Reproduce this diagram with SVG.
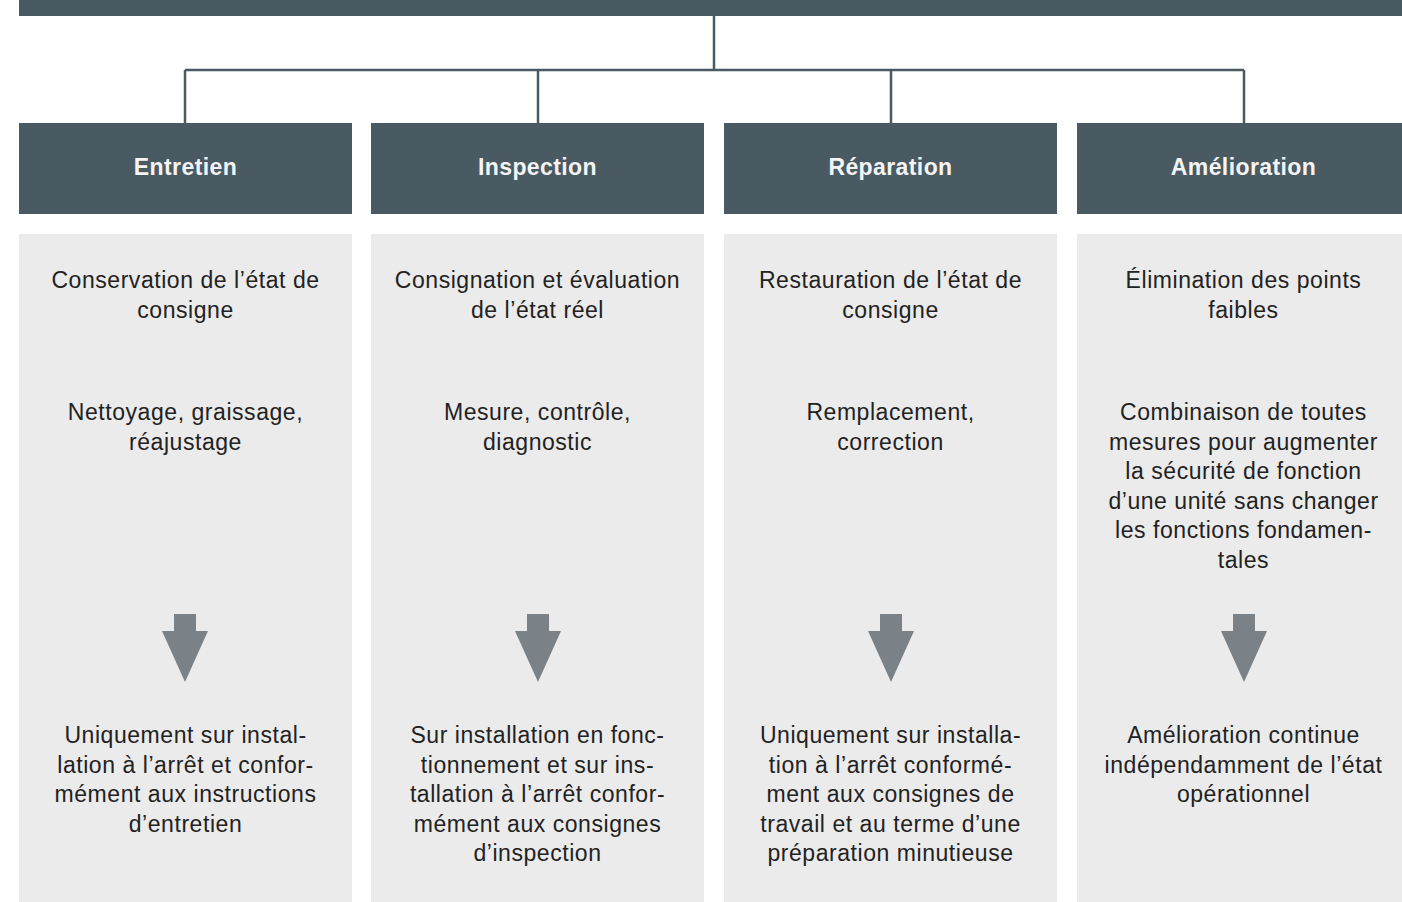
<svg xmlns="http://www.w3.org/2000/svg" width="1402" height="902" viewBox="0 0 1402 902">
<style>
.hdr{fill:#4a5a63}
.body{fill:#ebebeb}
.ht{font-family:"Liberation Sans",Arial,sans-serif;font-size:23px;font-weight:bold;fill:#f4f4f4;text-anchor:middle;letter-spacing:0.4px}
.bt{font-family:"Liberation Sans",Arial,sans-serif;font-size:23px;fill:#222;text-anchor:middle;letter-spacing:0.55px}
.conn{fill:none;stroke:#4a5a63;stroke-width:2.5}
.arr{fill:#7a8287}
</style>
<defs>
<path id="downarrow" d="M-11,0 H11 V17 H23 L0,68 L-23,17 H-11 Z"/>
</defs>
<rect x="0" y="0" width="1402" height="902" fill="#fff"/>
<g id="top"><rect class="hdr" x="19" y="-40" width="1400" height="56"/></g>
<g id="connectors">
<path class="conn" d="M714,16 V70 M185,70 H1244 M185,70 V123 M538,70 V123 M891,70 V123 M1244,70 V123"/>
</g>
<g id="col-entretien">
<rect class="hdr" x="19" y="123" width="333" height="91"/>
<text class="ht" x="185.5" y="174.5">Entretien</text>
<rect class="body" x="19" y="234" width="333" height="668"/>
<text class="bt" x="185.5" y="288">Conservation de l’état de</text>
<text class="bt" x="185.5" y="317.5">consigne</text>
<text class="bt" x="185.5" y="420">Nettoyage, graissage,</text>
<text class="bt" x="185.5" y="449.5">réajustage</text>
<use href="#downarrow" x="185" y="614" class="arr"/>
<text class="bt" x="185.5" y="743">Uniquement sur instal-</text>
<text class="bt" x="185.5" y="772.5">lation à l’arrêt et confor-</text>
<text class="bt" x="185.5" y="802">mément aux instructions</text>
<text class="bt" x="185.5" y="831.5">d’entretien</text>
</g>
<g id="col-inspection">
<rect class="hdr" x="371" y="123" width="333" height="91"/>
<text class="ht" x="537.5" y="174.5">Inspection</text>
<rect class="body" x="371" y="234" width="333" height="668"/>
<text class="bt" x="537.5" y="288">Consignation et évaluation</text>
<text class="bt" x="537.5" y="317.5">de l’état réel</text>
<text class="bt" x="537.5" y="420">Mesure, contrôle,</text>
<text class="bt" x="537.5" y="449.5">diagnostic</text>
<use href="#downarrow" x="538" y="614" class="arr"/>
<text class="bt" x="537.5" y="743">Sur installation en fonc-</text>
<text class="bt" x="537.5" y="772.5">tionnement et sur ins-</text>
<text class="bt" x="537.5" y="802">tallation à l’arrêt confor-</text>
<text class="bt" x="537.5" y="831.5">mément aux consignes</text>
<text class="bt" x="537.5" y="861">d’inspection</text>
</g>
<g id="col-reparation">
<rect class="hdr" x="724" y="123" width="333" height="91"/>
<text class="ht" x="890.5" y="174.5">Réparation</text>
<rect class="body" x="724" y="234" width="333" height="668"/>
<text class="bt" x="890.5" y="288">Restauration de l’état de</text>
<text class="bt" x="890.5" y="317.5">consigne</text>
<text class="bt" x="890.5" y="420">Remplacement,</text>
<text class="bt" x="890.5" y="449.5">correction</text>
<use href="#downarrow" x="891" y="614" class="arr"/>
<text class="bt" x="890.5" y="743">Uniquement sur installa-</text>
<text class="bt" x="890.5" y="772.5">tion à l’arrêt conformé-</text>
<text class="bt" x="890.5" y="802">ment aux consignes de</text>
<text class="bt" x="890.5" y="831.5">travail et au terme d’une</text>
<text class="bt" x="890.5" y="861">préparation minutieuse</text>
</g>
<g id="col-amelioration">
<rect class="hdr" x="1077" y="123" width="340" height="91"/>
<text class="ht" x="1243.5" y="174.5">Amélioration</text>
<rect class="body" x="1077" y="234" width="340" height="668"/>
<text class="bt" x="1243.5" y="288">Élimination des points</text>
<text class="bt" x="1243.5" y="317.5">faibles</text>
<text class="bt" x="1243.5" y="420">Combinaison de toutes</text>
<text class="bt" x="1243.5" y="449.5">mesures pour augmenter</text>
<text class="bt" x="1243.5" y="479">la sécurité de fonction</text>
<text class="bt" x="1243.5" y="508.5">d’une unité sans changer</text>
<text class="bt" x="1243.5" y="538">les fonctions fondamen-</text>
<text class="bt" x="1243.5" y="567.5">tales</text>
<use href="#downarrow" x="1244" y="614" class="arr"/>
<text class="bt" x="1243.5" y="743">Amélioration continue</text>
<text class="bt" x="1243.5" y="772.5">indépendamment de l’état</text>
<text class="bt" x="1243.5" y="802">opérationnel</text>
</g>
</svg>
